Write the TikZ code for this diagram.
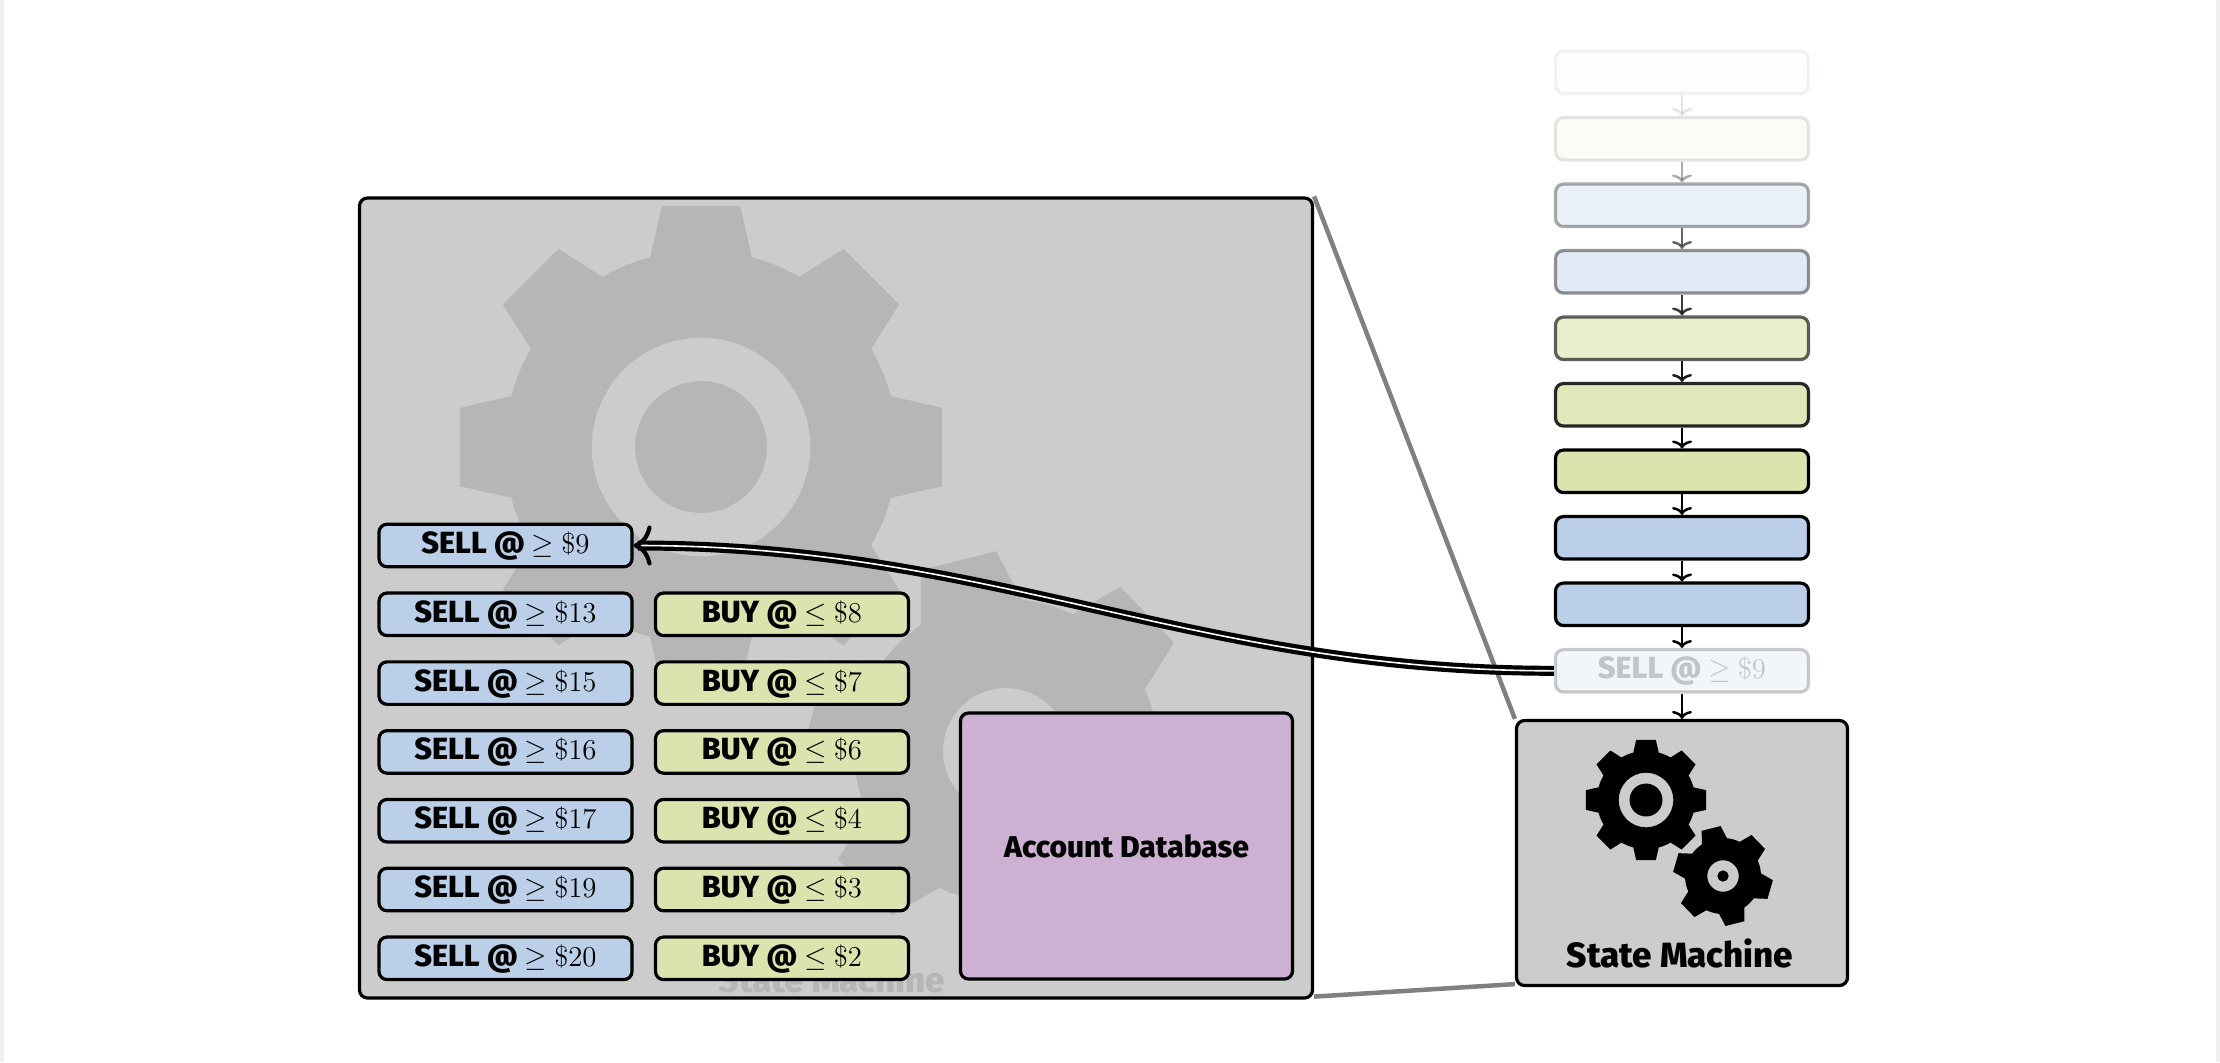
\documentclass[tikz,border=0pt]{standalone}
\usepackage[no-math]{fontspec}
\usepackage{amsmath}
\usepackage{amssymb}
\setmainfont{Fira Sans}[BoldFont={Fira Sans ExtraBold}]
\usetikzlibrary{positioning}
\usetikzlibrary{arrows.meta}

\definecolor{sellblue}{HTML}{BBD0E8}
\definecolor{buygreen}{HTML}{DDE3AE}
\definecolor{dbpurple}{HTML}{CDB1D2}
\definecolor{machinegray}{HTML}{CCCCCC}
\definecolor{coggray}{HTML}{B6B6B6}
\definecolor{edgegray}{HTML}{F0F0F0}

\tikzset{
  order/.style={draw, line width=1.6pt, rounded corners=4pt, minimum width=126.5pt,
    minimum height=21.25pt, inner sep=0pt, text height=11pt, text depth=3pt,
    font=\fontsize{15.3}{17}\selectfont\bfseries},
  panel/.style={draw, line width=1.6pt, rounded corners=4pt, inner sep=0pt},
  flow/.style={line width=1.25pt, -{To[length=4pt,width=10pt]}},
  bigcog/.pic={
    \fill[pic actions, even odd rule] (-15:.805)
      \foreach \a in {0,45,...,315} {
        -- (\a-15:.805) -- (\a-9.27:1) -- (\a+9.27:1) -- (\a+15:.805)
        arc[start angle=\a+15, end angle=\a+30, radius=.805]
      } -- cycle (0,0) circle (.448) (0,0) circle (.27);
  },
  smallcog/.pic={
    \fill[pic actions, even odd rule] (-20:.76)
      \foreach \a in {0,60,...,300} {
        -- (\a-20:.76) -- (\a-11.2:1) -- (\a+11.2:1) -- (\a+20:.76)
        arc[start angle=\a+20, end angle=\a+40, radius=.76]
      } -- cycle (0,0) circle (.315) (0,0) circle (.113);
  }
}

\begin{document}
\begin{tikzpicture}[x=.5pt, y=-.5pt]
  \useasboundingbox (0, 0) rectangle (2220, 1062);
  \fill[edgegray] (0, 0) rectangle (4, 1062);
  \fill[edgegray] (2216, 0) rectangle (2220, 1062);

  % machine box on the right and the zoomed copy of it
  \node[panel, fill=machinegray, minimum width=165.5pt, minimum height=132.5pt] (machine) at (1682, 853) {};
  \node[panel, fill=machinegray, minimum width=476.5pt, minimum height=400pt] (zoomed) at (836, 598) {};
  \draw[line width=2.25pt, color=gray] (zoomed.north east) -- (machine.north west);
  \draw[line width=2.25pt, color=gray] ([yshift=1.5pt]zoomed.south east) -- ([yshift=1.5pt]machine.south west);

  % cogs
  \pic[fill=coggray, scale=244] at (701, 447) {bigcog};
  \pic[fill=coggray, scale=200, rotate=44] at (1006, 751) {smallcog};
  \pic[fill=black, scale=61] at (1646, 800) {bigcog};
  \pic[fill=black, scale=50, rotate=44] at (1723, 876) {smallcog};
  \node[font=\fontsize{17.5}{19}\selectfont\bfseries] (machineName) at (1680, 953) {State Machine};
  \node[font=\fontsize{17.5}{19}\selectfont\bfseries, color=coggray] (zoomedName) at (832, 978) {State Machine};

  % transactions waiting above the machine
  \foreach \tint/\fade [count=\i] in {sellblue/.05, buygreen/.1, sellblue/.33, sellblue/.42,
      buygreen/.62, buygreen/.84, buygreen/1, sellblue/1, sellblue/1} {
    \node[order, fill=\tint, opacity=\fade] (block\i) at (1682, {72.3 + (\i - 1) * 66.5}) {};
  }
  \node[order, fill=sellblue, opacity=.2, below = 10.4pt of block9] (block10) {SELL @ $\geq$ $\$9$};
  \foreach \i/\j/\fade in {1/2/.1, 2/3/.33, 3/4/.6, 4/5/.77, 5/6/.9, 6/7/1, 7/8/1, 8/9/1, 9/10/1} {
    \draw[flow, opacity=\fade] (block\i) -- (block\j);
  }
  \draw[flow] (block10) -- (machine.north -| block10);

  % order book
  \foreach \price [count=\i] in {9, 13, 15, 16, 17, 19, 20} {
    \node[order, fill=sellblue] (sell\i) at (505.5, {545.5 + (\i - 1) * 68.8}) {SELL @ $\geq$ $\$\price$};
  }
  \foreach \price [count=\i from 2] in {8, 7, 6, 4, 3, 2} {
    \node[order, fill=buygreen, right = 10.15pt of sell\i] (buy\i) {BUY @ $\leq$ $\$\price$};
  }
  \node[panel, fill=dbpurple, minimum width=166pt, minimum height=133pt,
    font=\fontsize{15}{17}\selectfont\bfseries] (database) at (1126.5, 846) {Account Database};

  \draw[line width=2.1pt, double, double distance=.8pt, -{To[length=9pt,width=20pt]}]
    (block10) to[out=180, in=0] (sell1);
\end{tikzpicture}
\end{document}
